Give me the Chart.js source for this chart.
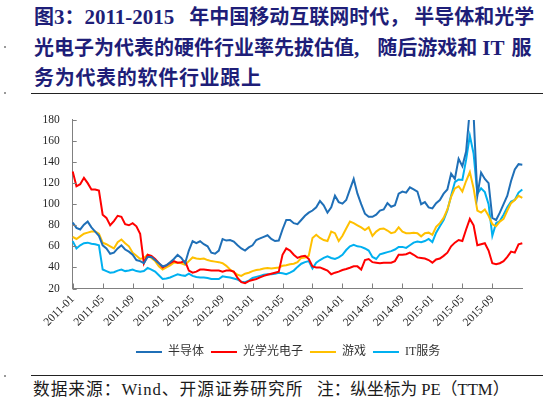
<!DOCTYPE html>
<html>
<head>
<meta charset="utf-8">
<script src="https://cdn.jsdelivr.net/npm/chart.js@4.4.1/dist/chart.umd.min.js"></script>
<style>
  html, body { margin:0; padding:0; background:#fff; }
  body { width:547px; height:405px; position:relative; overflow:hidden; }
  .t { position:absolute; left:34px; font:bold 20px "Liberation Serif","Noto Sans CJK SC"; color:#1e1e78; line-height:30px; white-space:nowrap; }
  .t .l { font-size:21px; }
  .rule { position:absolute; left:31px; width:512px; height:1px; background:#222; }
  .dot { position:absolute; left:4px; width:2px; height:2px; background:#999; }
  .src { position:absolute; top:379px; font:16.7px "Liberation Serif","Noto Sans CJK SC"; color:#1a1a1a; line-height:22px; white-space:nowrap; }
  #c { position:absolute; left:0; top:100px; }
</style>
</head>
<body>
<div class="t" style="top:2px">图<span class="l">3</span>：<span class="l">2011-2015</span><span style="margin-left:15px">年中国移动互联网时代，</span><span style="margin-left:5px">半导体和光学</span></div>
<div class="t" style="top:33px">光电子为代表的硬件行业率先拔估值<span class="l">,</span><span style="margin-left:18px">随后游戏和</span><span class="l" style="margin-left:5px">IT</span><span style="margin-left:7px">服</span></div>
<div class="t" style="top:63px;letter-spacing:0.7px">务为代表的软件行业跟上</div>
<div class="rule" style="top:93px"></div>
<div class="dot" style="top:46px"></div>
<div class="dot" style="top:92px"></div>
<div class="dot" style="top:375px"></div>
<canvas id="c" width="547" height="268"></canvas>
<div class="rule" style="top:375px"></div>
<div class="src" style="left:33px;letter-spacing:1px">数据来源：Wind、开源证券研究所</div>
<div class="src" style="left:317px">注：纵坐标为 PE（TTM）</div>
<script>
const seriesNames = ['半导体', '光学光电子', '游戏', 'IT服务'];
const seriesColors = ['#1f6fb7', '#ff0000', '#ffc000', '#00b0f0'];
const tickLabels = ['2011-01','2011-05','2011-09','2012-01','2012-05','2012-09','2013-01','2013-05','2013-09','2014-01','2014-05','2014-09','2015-01','2015-05','2015-09'];
const dates = [
'2011-01-01','2011-01-16','2011-02-01','2011-02-16','2011-03-01','2011-03-16','2011-04-01','2011-04-16','2011-05-01','2011-05-16',
'2011-06-01','2011-06-16','2011-07-01','2011-07-16','2011-08-01','2011-08-16','2011-09-01','2011-09-16','2011-10-01','2011-10-16',
'2011-11-01','2011-11-16','2011-12-01','2011-12-16','2012-01-01','2012-01-16','2012-02-01','2012-02-16','2012-03-01','2012-03-16',
'2012-04-01','2012-04-16','2012-05-01','2012-05-16','2012-06-01','2012-06-16','2012-07-01','2012-07-16','2012-08-01','2012-08-16',
'2012-09-01','2012-09-16','2012-10-01','2012-10-16','2012-11-01','2012-11-16','2012-12-01','2012-12-16','2013-01-01','2013-01-16',
'2013-02-01','2013-02-16','2013-03-01','2013-03-16','2013-04-01','2013-04-16','2013-05-01','2013-05-16','2013-06-01','2013-06-16',
'2013-07-01','2013-07-16','2013-08-01','2013-08-16','2013-09-01','2013-09-16','2013-10-01','2013-10-16','2013-11-01','2013-11-16',
'2013-12-01','2013-12-16','2014-01-01','2014-01-16','2014-02-01','2014-02-16','2014-03-01','2014-03-16','2014-04-01','2014-04-16',
'2014-05-01','2014-05-16','2014-06-01','2014-06-16','2014-07-01','2014-07-16','2014-08-01','2014-08-16','2014-09-01','2014-09-16',
'2014-10-01','2014-10-16','2014-11-01','2014-11-16','2014-12-01','2014-12-16','2015-01-01','2015-01-16','2015-02-01','2015-02-16',
'2015-03-01','2015-03-16','2015-04-01','2015-04-16','2015-05-01','2015-05-16','2015-06-01','2015-06-16','2015-07-01','2015-07-16',
'2015-08-01','2015-08-16','2015-09-01','2015-09-16','2015-10-01','2015-10-16','2015-11-01','2015-11-16','2015-12-01','2015-12-16',
'2015-12-31'];
const semiconductor = [
82.6,77.5,76,80.5,83.5,78,74,70,61,58,
53,54,58,61,57,55,52,47,46,44,
50,50,47,44,41,42,45,48,52,49,
44,56,65,63,64.8,62,60,54,53,56,
67,65.5,66,64.5,61,58,56,59,61,66,
67.5,69,70.5,67,65,65.5,76,85,85,82,
81,85,89,92,94,97,103,99,92,97,
108,102,100.5,104,114,124,110,100,91,88,
88,90,94,95,101,97.6,99,110,112,111,
116,114,112,100,102,97,96,101,104,110,
114,129,124,143,136,150,190,185,108,130,
124,120,87,85,92,100,108,122,133,138,
137.5];
const optoelectronics = [
131,117,119,125,120,114,114,113,90,87,
80,84,89,88,81,80,82,79,72,44,
52,51,48,44,40,42,44,46,44.5,45,
46,37,35,36,38,38,37.5,37,37,37,
36,37,37,36,30,26,25,27,28,29,
30.5,32,33,34,35,36,52,58,56,52,
49,50.5,51,48,41,40,40,38.5,37,33.5,
35,36,37.5,38.5,39.7,41,41,38,47,48,
45,44.5,44,44.5,44.5,44.5,46,52,52,52.5,
54,52,49.5,49,48.5,47,44.5,47.5,48.5,51,
54,60,63.5,66,65,76,86,80,61,62,
63,56,44,43,44,46,50,55,54,62,
63];
const games = [
69,67,69.5,72,73,74,74,72,63.5,62,
60,58,64,66.5,63,60,54,51,48,49,
52,49,46,41,38,40,42,44.5,44.5,44,
42.5,46,49.5,48.5,48,48.5,47,46,45.5,45,
44,41.5,38,35.5,33,32,34,35,36.5,37.5,
38,39,39.5,39,39.5,40,41.5,42,43,43.5,
45,49,49.5,51,68,71,68,66,65,74,
72.5,65,70,77,83.5,82,80,78,75.5,78,
70,74,76.5,77,75,72.5,73.5,78,74,72.5,
72.5,73,72.5,69.5,72.5,73,71,78.5,82,87,
95,107,115,117,112,122,130.5,115,94,92,
95,89,81,79,83.5,86,94,101,104,108,
106];
const itServices = [
65,58,61,63,63.5,62.5,62,61,38,36.5,
35,35.5,37,38,36.5,37,38,36.5,36,36.5,
39.5,38,36,32.5,29,29.5,30.5,32,33.5,32.5,
32,34,32,31,30.5,30.5,30,29,29,29,
31.5,31,30.5,29.5,28.5,26.5,26,27.5,30,31,
32,33,33.5,33.5,34,35,34.5,33.5,35,37,
40.5,43.5,45,46,39,44.5,47,49,50.5,49,
48,49.5,52,56.5,60,61.5,60,59.5,58,56,
50,48,52.5,53.5,54.5,55.5,57,59.5,59.5,58.5,
61,63.5,64.5,64,65,67,64,73,79,85,
94,108,121,123.5,123,142,165,148,110,115,
111.5,100,70,82,84,90,97,102.5,104,111,
114];
const seriesValues = [semiconductor, optoelectronics, games, itServices];

const axisColor = '#808080';
const tickMarks = {
  id: 'tickMarks',
  afterLayout(chart) {
    const lg = chart.legend;
    if (lg) { lg.left += 7; lg.right += 7; }
  },
  afterDatasetsDraw(chart) {
    const { ctx, chartArea, scales: { x, y } } = chart;
    ctx.save();
    ctx.strokeStyle = axisColor;
    ctx.lineWidth = 1;
    ctx.beginPath();
    x.ticks.forEach((t, i) => {
      if (t.label === null || t.label === undefined || t.label === '') return;
      const px = Math.round(x.getPixelForTick(i)) + 0.5;
      ctx.moveTo(px, chartArea.bottom);
      ctx.lineTo(px, chartArea.bottom - 5);
    });
    y.ticks.forEach((t, i) => {
      const py = Math.round(y.getPixelForTick(i)) + 0.5;
      ctx.moveTo(chartArea.left, py);
      ctx.lineTo(chartArea.left + 4, py);
    });
    ctx.stroke();
    ctx.restore();
  }
};

new Chart(document.getElementById('c'), {
  type: 'line',
  data: {
    labels: dates,
    datasets: seriesNames.map((n, i) => ({
      label: n,
      data: seriesValues[i],
      borderColor: seriesColors[i],
      backgroundColor: seriesColors[i],
      borderWidth: 2,
      pointRadius: 0,
      tension: 0,
      fill: false
    }))
  },
  options: {
    responsive: false,
    animation: false,
    events: [],
    layout: { padding: { left: 40, right: 24.7, top: 12.3, bottom: 0 } },
    scales: {
      x: {
        type: 'category',
        offset: false,
        grid: { display: false, drawTicks: false },
        border: { display: true, color: axisColor, width: 1 },
        ticks: {
          autoSkip: false, maxRotation: 45, minRotation: 45, padding: 4,
          color: '#262626',
          font: { family: 'Liberation Serif', size: 11.5 },
          callback: function (v, i) {
            const d = dates[i];
            const m = d.slice(0, 7);
            return (d.endsWith('-01') && tickLabels.includes(m)) ? m : null;
          }
        },
        afterFit: s => { s.height = 50.5; }
      },
      y: {
        min: 20, max: 180,
        grid: { display: false, drawTicks: false },
        border: { display: true, color: axisColor, width: 1 },
        ticks: { stepSize: 20, padding: 13, color: '#262626', font: { family: 'Liberation Serif', size: 11.5 } },
        afterFit: s => { s.width = 32.7; }
      }
    },
    plugins: {
      legend: {
        position: 'bottom',
        labels: {
          usePointStyle: true, pointStyle: 'line', pointStyleWidth: 26,
          boxHeight: 10, padding: 7, color: '#333',
          font: { family: '"Liberation Serif", "Noto Sans CJK SC"', size: 12 }
        }
      },
      tooltip: { enabled: false }
    }
  },
  plugins: [tickMarks]
});
</script>
</body>
</html>
